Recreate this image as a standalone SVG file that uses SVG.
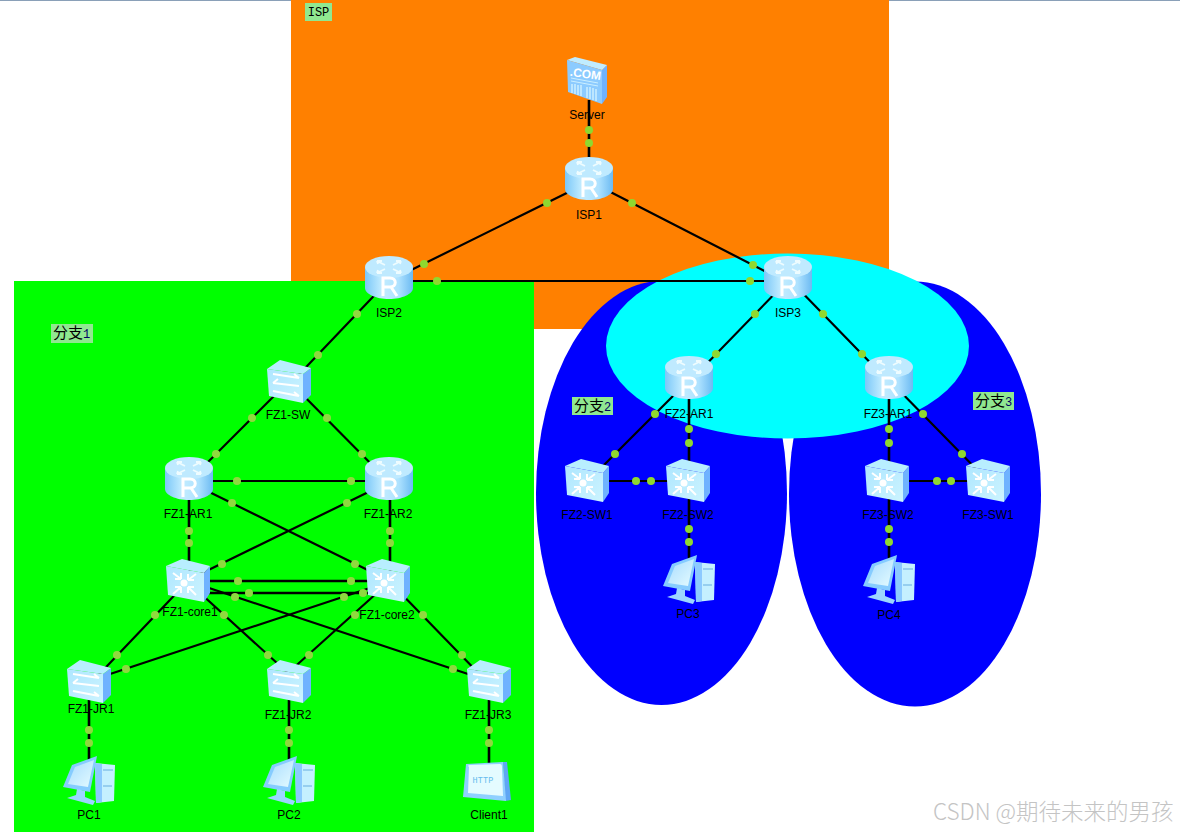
<svg xmlns="http://www.w3.org/2000/svg" width="1180" height="832" viewBox="0 0 1180 832">
<style>
text{font-family:"Liberation Sans",Arial,sans-serif;font-size:12px;fill:#000;text-anchor:middle}
.ln{stroke:#000;stroke-width:2.200;fill:none}
.th{stroke:#000;stroke-width:2.600;fill:none}
.dot circle,.gd circle{r:4px}
.dot{fill:#8fd82f}
.gd{fill:#8fd93f}
.tag{fill:#90e890}
.tagt{font-family:"Noto Sans CJK SC","Liberation Mono",monospace;font-size:15px}
.tagn{font-family:"Liberation Mono",monospace;font-size:12px;fill:#000066}
</style>
<defs>
<linearGradient id="cyl" x1="0" x2="1" y1="0" y2="0"><stop offset="0" stop-color="#7cc8f8"/><stop offset=".35" stop-color="#c2ecff"/><stop offset=".7" stop-color="#aee2ff"/><stop offset="1" stop-color="#6cbaf2"/></linearGradient>
<linearGradient id="face" x1="0" x2="1" y1="0" y2="1"><stop offset="0" stop-color="#aee6ff"/><stop offset="1" stop-color="#ccf4ff"/></linearGradient>
<linearGradient id="scr" x1="0" x2="1" y1="0" y2="1"><stop offset="0" stop-color="#a8dcff"/><stop offset="1" stop-color="#e4fbff"/></linearGradient>
<symbol id="router" viewBox="0 0 48 44" width="48" height="44" overflow="visible">
<path d="M0 11V32C0 38 11 43 24 43S48 38 48 32V11Z" fill="url(#cyl)"/>
<ellipse cx="24" cy="11" rx="24" ry="11" fill="#bfeaff"/>
<path d="M12 5l8 4M12 5h5M12 5l1 3M36 5l-8 4M36 5h-5M36 5l-1 3M12 17l8-4M12 17h5M12 17l1-3M36 17l-8-4M36 17h-5M36 17l-1-3" stroke="#eefcff" stroke-width="1.800" fill="none"/>
<path d="M18 40V22h7c7 0 7 9 0 9h-7M26 31l6 9" fill="none" stroke="#fff" stroke-width="3"/>
</symbol>
<symbol id="core" viewBox="0 0 44 43" width="44" height="43" overflow="visible">
<path d="M38 14L44 7 44 34 38 43Z" fill="#6fb2ff"/>
<path d="M0 7L16 0 44 7 38 14Z" fill="#b8eeff"/>
<path d="M0 7L38 14 38 43 2 36Z" fill="url(#face)"/>
<circle cx="18" cy="24" r="3.500" fill="#fff"/>
<path d="M7 14l8 6M15 20H9M15 20v-6M30 15l-8 6M22 21h6M22 21v-6M7 35l8-7M15 28H9M15 28v6M30 36l-8-8M22 28h6M22 28v6" stroke="#fff" stroke-width="2" fill="none"/>
</symbol>
<symbol id="sw" viewBox="0 0 44 44" width="44" height="44" overflow="visible">
<path d="M36 14L44 8 44 35 36 43Z" fill="#6fb2ff"/>
<path d="M0 9L13 0 44 8 36 14Z" fill="#b8eeff"/>
<path d="M0 9L36 14 36 43 2 36Z" fill="url(#face)"/>
<path d="M6 14L32 18M32 18l-5-4M6 23l26 3M6 23l5-4M6 31l26 5M32 36l-5-4" stroke="#fff" stroke-width="2" fill="none"/>
</symbol>
<symbol id="pc" viewBox="0 0 52 50" width="52" height="50" overflow="visible">
<path d="M32 7L52 9 51 45 33 47Z" fill="#c4f0ff"/>
<path d="M32 7L39 8 39 46 33 47Z" fill="#8ccaff"/>
<path d="M40 14h10M40 30h9" stroke="#86c4ea" stroke-width="1.500"/>
<path d="M9 9L34 0 27 36 0 31Z" fill="#86ccff"/>
<path d="M12 11L31 4 25 31 5 28Z" fill="url(#scr)"/>
<path d="M14 33L22 35 22 41 32 45 30 49 4 42 13 39Z" fill="#9cd6ff"/>
</symbol>
<symbol id="server" viewBox="0 0 40 47" width="40" height="47" overflow="visible">
<path d="M35 13L40 8 40 40 35 47Z" fill="#6fb2ff"/>
<path d="M0 3L8 0 40 8 35 13Z" fill="#c0ecff"/>
<path d="M0 3L35 13 35 47 1 35Z" fill="#8ccbff"/>
<path d="M4 21L31 26M4 24L31 29" stroke="#cbefff" stroke-width="1"/>
<path d="M5 27V36M8 27V37M11 28V38M14 28V39M20 30V41M23 30V42M26 31V43M29 32V44" stroke="#cbefff" stroke-width="1.500"/>
</symbol>
<symbol id="client" viewBox="0 0 48 40" width="48" height="40" overflow="visible">
<path d="M40 0L44 0 48 38 42 39Z" fill="#5fa6f4"/>
<path d="M3 2L40 0 43 39 0 35Z" fill="#8fd0ff"/>
<path d="M6 5Q4 3 7 3L37 2Q39 2 39 5L40 34 5 31Z" fill="#e4fbff"/>
</symbol>
</defs>

<rect x="0" y="0" width="1180" height="1" fill="#8aa0b8"/>
<g id="backgrounds">
<rect x="291" y="0" width="598" height="329" fill="#ff8000"/>
<rect x="14" y="281" width="520" height="551" fill="#00ff00"/>
<ellipse cx="661.500" cy="493" rx="125.500" ry="212" fill="#0000ff"/>
<ellipse cx="915" cy="494" rx="126" ry="212.500" fill="#0000ff"/>
<ellipse cx="787.500" cy="346" rx="181.500" ry="92.500" fill="#00ffff"/>
</g>

<g id="connectors">
<path class="ln" d="M589 182L389 281M589 181L788 283M389 281H788M389 280L289 385M788 280L689 382M788 278L889 382"/>
<path class="ln" d="M689 380L586 483M586 481H687M889 380L988 481M887 481H988"/>
<path class="ln" d="M289 381L189 481M289 381L389 482M189 481H389M189 482L388 580M389 482L188 580"/>
<path class="ln" d="M188 581L89 685M188 582L289 674M188 581L489 681M388 582L89 681M388 583L289 672M388 580L489 684"/>
<path class="th" d="M589 100V160M689 377V480M689 480V581M889 377V480M889 480V581M189 478V580M390 478V580M188 581H388M188 593H388M89 682V781M289 682V781M489 682V781"/>
</g>
<g id="link-dots">
<g class="dot">
<circle cx="589" cy="130" r="4"/><circle cx="589" cy="143" r="4"/>
<circle cx="547" cy="203" r="4"/><circle cx="424" cy="264" r="4"/>
<circle cx="632" cy="203" r="4"/><circle cx="753" cy="265" r="4"/>
<circle cx="437" cy="281" r="4"/><circle cx="750" cy="281" r="4"/>
<circle cx="755" cy="314" r="4"/><circle cx="716" cy="354" r="4"/>
<circle cx="823" cy="314" r="4"/><circle cx="862" cy="354" r="4"/>
<circle cx="655" cy="414" r="4"/><circle cx="615" cy="454" r="4"/>
<circle cx="689" cy="429" r="4"/><circle cx="689" cy="443" r="4"/>
<circle cx="636" cy="481" r="4"/><circle cx="651" cy="481" r="4"/>
<circle cx="689" cy="529" r="4"/><circle cx="689" cy="542" r="4"/>
<circle cx="889" cy="429" r="4"/><circle cx="889" cy="443" r="4"/>
<circle cx="923" cy="414" r="4"/><circle cx="962" cy="454" r="4"/>
<circle cx="937" cy="481" r="4"/><circle cx="951" cy="481" r="4"/>
<circle cx="889" cy="529" r="4"/><circle cx="889" cy="542" r="4"/>
</g>
<g class="gd">
<circle cx="357" cy="314" r="4"/><circle cx="318" cy="355" r="4"/>
<circle cx="252" cy="418" r="4"/><circle cx="216" cy="454" r="4"/>
<circle cx="327" cy="418" r="4"/><circle cx="362" cy="454" r="4"/>
<circle cx="237" cy="481" r="4"/><circle cx="351" cy="481" r="4"/>
<circle cx="189" cy="531" r="4"/><circle cx="189" cy="543" r="4"/>
<circle cx="390" cy="531" r="4"/><circle cx="390" cy="543" r="4"/>
<circle cx="232" cy="503" r="4"/><circle cx="355" cy="564" r="4"/>
<circle cx="222" cy="564" r="4"/><circle cx="347" cy="503" r="4"/>
<circle cx="238" cy="581" r="4"/><circle cx="351" cy="581" r="4"/>
<circle cx="249" cy="593" r="4"/><circle cx="363" cy="593" r="4"/>
<circle cx="235" cy="597" r="4"/><circle cx="453" cy="669" r="4"/>
<circle cx="344" cy="597" r="4"/><circle cx="126" cy="669" r="4"/>
<circle cx="155" cy="615" r="4"/><circle cx="117" cy="655" r="4"/>
<circle cx="224" cy="615" r="4"/><circle cx="268" cy="655" r="4"/>
<circle cx="355" cy="615" r="4"/><circle cx="309" cy="655" r="4"/>
<circle cx="423" cy="615" r="4"/><circle cx="462" cy="655" r="4"/>
<circle cx="89" cy="730" r="4"/><circle cx="89" cy="743" r="4"/>
<circle cx="289" cy="730" r="4"/><circle cx="289" cy="743" r="4"/>
<circle cx="489" cy="730" r="4"/><circle cx="489" cy="743" r="4"/>
</g>
</g>

<g id="Server"><use href="#server" x="567" y="57"/>
<text x="587" y="119">Server</text>
<text x="585" y="78" transform="rotate(8 585 78)" style="font-size:12px;font-weight:bold;fill:#fff">.COM</text></g>
<g id="ISP1"><use href="#router" x="565" y="157"/><text x="589" y="219">ISP1</text></g>
<g id="ISP2"><use href="#router" x="365" y="256"/><text x="389" y="317">ISP2</text></g>
<g id="ISP3"><use href="#router" x="764" y="256"/><text x="788" y="317">ISP3</text></g>
<g id="FZ2-AR1"><use href="#router" x="665" y="356"/><text x="689" y="418">FZ2-AR1</text></g>
<g id="FZ3-AR1"><use href="#router" x="865" y="356"/><text x="888" y="418">FZ3-AR1</text></g>
<g id="FZ1-SW"><use href="#sw" x="267" y="360"/><text x="288" y="419">FZ1-SW</text></g>
<g id="FZ1-AR1"><use href="#router" x="165" y="457"/><text x="188" y="518">FZ1-AR1</text></g>
<g id="FZ1-AR2"><use href="#router" x="365" y="457"/><text x="388" y="518">FZ1-AR2</text></g>
<g id="FZ2-SW1"><use href="#core" x="565" y="459"/><text x="587" y="519">FZ2-SW1</text></g>
<g id="FZ2-SW2"><use href="#core" x="666" y="459"/><text x="688" y="519">FZ2-SW2</text></g>
<g id="FZ3-SW2"><use href="#core" x="865" y="459"/><text x="888" y="519">FZ3-SW2</text></g>
<g id="FZ3-SW1"><use href="#core" x="966" y="459"/><text x="988" y="519">FZ3-SW1</text></g>
<g id="PC3"><use href="#pc" x="663" y="555"/><text x="688" y="618">PC3</text></g>
<g id="PC4"><use href="#pc" x="863" y="555"/><text x="889" y="619">PC4</text></g>
<g id="FZ1-core1"><use href="#core" x="166" y="559"/><text x="190" y="616">FZ1-core1</text></g>
<g id="FZ1-core2"><use href="#core" x="366" y="559"/><text x="387" y="619">FZ1-core2</text></g>
<g id="FZ1-JR1"><use href="#sw" x="67" y="660"/><text x="91" y="713">FZ1-JR1</text></g>
<g id="FZ1-JR2"><use href="#sw" x="267" y="660"/><text x="288" y="719">FZ1-JR2</text></g>
<g id="FZ1-JR3"><use href="#sw" x="467" y="660"/><text x="488" y="719">FZ1-JR3</text></g>
<g id="PC1"><use href="#pc" x="63" y="756"/><text x="89" y="819">PC1</text></g>
<g id="PC2"><use href="#pc" x="263" y="756"/><text x="289" y="819">PC2</text></g>
<g id="Client1"><use href="#client" x="463" y="762"/>
<text x="483" y="783" style="font-family:'Liberation Mono',monospace;font-size:8.500px;fill:#66bbee;letter-spacing:.2px">HTTP</text>
<text x="489" y="819">Client1</text></g>

<g id="labels">
<rect class="tag" x="305" y="3" width="27" height="18"/><text x="318.500" y="16" style="font-family:'Liberation Mono',monospace;font-size:12px">ISP</text>
<rect class="tag" x="51" y="324" width="42" height="19"/><text class="tagt" x="71.500" y="338">分支<tspan class="tagn">1</tspan></text>
<rect class="tag" x="572" y="397" width="41" height="18"/><text class="tagt" x="592.500" y="411">分支<tspan class="tagn">2</tspan></text>
<rect class="tag" x="973" y="392" width="41" height="18"/><text class="tagt" x="993.500" y="406">分支<tspan class="tagn">3</tspan></text>
</g>
<text x="933" y="820" style="text-anchor:start;font-family:'Noto Sans CJK SC','Noto Sans',sans-serif;font-size:22.500px;font-weight:300;fill:#c4c4c4">CSDN @期待未来的男孩</text>
</svg>
